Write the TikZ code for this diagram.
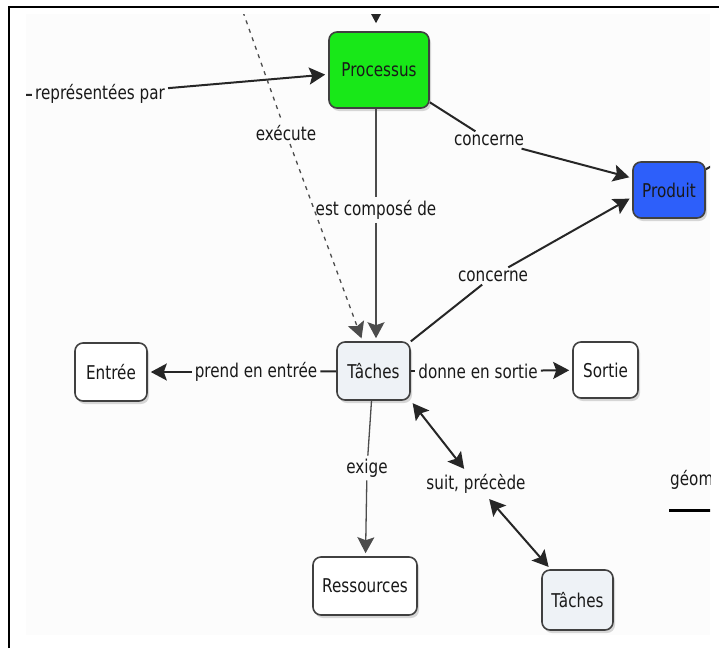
\documentclass[tikz,border=0pt]{standalone}
\usepackage{fontspec}
\setmainfont[FakeStretch=0.8]{DejaVu Sans}
\usetikzlibrary{arrows.meta,shadows}

\newlength{\du}
\setlength{\du}{1pt}

\definecolor{procgreen}{RGB}{24,232,24}
\definecolor{prodblue}{RGB}{45,95,250}
\definecolor{tachefill}{RGB}{238,242,246}
\definecolor{cmapback}{RGB}{252,252,252}

\begin{document}
\begin{tikzpicture}[
  concept/.style={draw=black!75, line width=1.6\du, rounded corners=8\du, fill=white,
    inner sep=2\du, text=black!90,
    drop shadow={opacity=0.3, shadow xshift=2\du, shadow yshift=-3\du}},
  linkname/.style={text=black!90, inner sep=3\du},
  link/.style={draw=black!85, line width=2\du},
  thinlink/.style={draw=black!70, line width=1.3\du},
  tip/.style={-{Stealth[length=16pt,width=17pt,inset=3pt]}, shorten >=3\du},
  bothtips/.style={{Stealth[length=16pt,width=17pt,inset=3pt]}-{Stealth[length=16pt,width=17pt,inset=3pt]},
    shorten >=3\du, shorten <=3\du},
  font=\fontsize{19}{22}\selectfont
]
\pgftransformyscale{-1.000000}
\useasboundingbox (0\du,0\du) rectangle (719\du,648\du);

% frame of the screenshot
\fill[cmapback] (26\du,14\du) rectangle (710\du,635\du);
\draw[line width=2.5\du] (9\du,648\du) -- (9\du,7\du) -- (719\du,7\du);

\begin{scope}
\clip (26\du,14\du) rectangle (710\du,635\du);

% concepts
\node[concept, fill=procgreen, minimum width=100\du, minimum height=76\du] (processus) at (379\du,70\du) {Processus};
\node[concept, fill=prodblue, minimum width=72\du, minimum height=56\du] (produit) at (669\du,190\du) {Produit};
\node[concept, fill=tachefill, minimum width=73\du, minimum height=58\du] (taches) at (373.5\du,371\du) {Tâches};
\node[concept, minimum width=72\du, minimum height=58\du] (entree) at (111\du,372\du) {Entrée};
\node[concept, minimum width=65\du, minimum height=56\du] (sortie) at (605.5\du,370\du) {Sortie};
\node[concept, minimum width=104\du, minimum height=58\du] (ressources) at (365\du,586\du) {Ressources};
\node[concept, fill=tachefill, minimum width=71\du, minimum height=60\du] (taches2) at (577.5\du,600\du) {Tâches};

% link names
\node[linkname] (lblRepr) at (100\du,94\du) {représentées par};
\node[linkname] (lblExec) at (286\du,133\du) {exécute};
\node[linkname] (lblCompose) at (376\du,210\du) {est composé de};
\node[linkname] (lblConcerneA) at (489\du,140\du) {concerne};
\node[linkname] (lblConcerneB) at (493\du,276\du) {concerne};
\node[linkname] (lblEntree) at (256\du,372\du) {prend en entrée};
\node[linkname] (lblSortie) at (478\du,371\du) {donne en sortie};
\node[linkname] (lblExige) at (367\du,468\du) {exige};
\node[linkname] (lblSuit) at (476\du,484\du) {suit, précède};
\node[linkname, anchor=west] (lblGeom) at (667\du,480\du) {géom};

% free ends of links leaving the view
\coordinate (reprLeft) at (15\du,95\du);
\coordinate (procTop) at (376\du,0\du);
\coordinate (execTop) at (237\du,-5\du);
\coordinate (prodOut) at (740\du,150\du);
\coordinate (geomA) at (669\du,510\du);
\coordinate (geomB) at (725\du,510\du);

% links
\draw[link] (reprLeft) -- (lblRepr);
\draw[link, tip] (lblRepr) -- (processus);
\draw[link, tip, shorten >=8\du] (procTop) -- (procTop |- processus.north);
\draw[thinlink, dash pattern=on 4\du off 5\du] (execTop) -- (lblExec);
\draw[thinlink, dash pattern=on 4\du off 5\du, tip] (lblExec) -- (taches);
\draw[thinlink] (processus.south -| lblCompose) -- (lblCompose);
\draw[thinlink, tip] (lblCompose) -- (lblCompose |- taches.north);
\draw[link] (processus) -- (lblConcerneA);
\draw[link, tip] (lblConcerneA) -- (produit.162);
\draw[link] (taches) -- (lblConcerneB);
\draw[link, tip] (lblConcerneB) -- (produit.191);
\draw[link] (taches) -- (lblEntree);
\draw[link, tip] (lblEntree) -- (entree);
\draw[link] (taches) -- (lblSortie);
\draw[link, tip] (lblSortie) -- (sortie);
\draw[thinlink] (taches) -- (lblExige);
\draw[thinlink, tip] (lblExige) -- (ressources);
\draw[link, bothtips] (taches.south east) -- (lblSuit);
\draw[link, bothtips] (lblSuit) -- (taches2);
\draw[link] (produit) -- (prodOut);
\draw[line width=3\du] (geomA) -- (geomB);
\end{scope}
\end{tikzpicture}
\end{document}
